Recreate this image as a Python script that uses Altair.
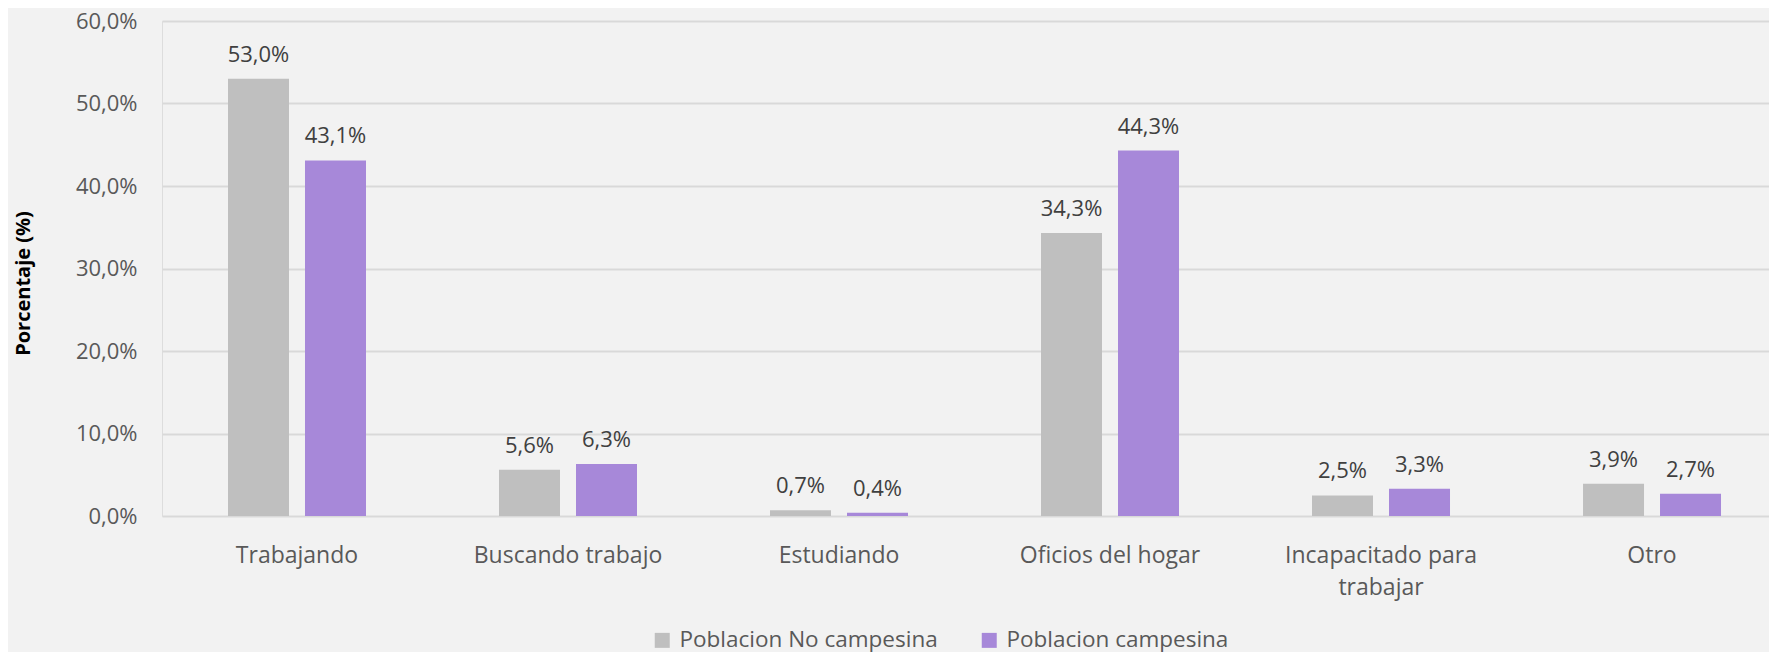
import altair as alt
import pandas as pd

categories = ["Trabajando", "Buscando trabajo", "Estudiando", "Oficios del hogar",
              "Incapacitado para trabajar", "Otro"]
series = ["Poblacion No campesina", "Poblacion campesina"]
no_campesina = [53.0, 5.6, 0.7, 34.3, 2.5, 3.9]
campesina = [43.1, 6.3, 0.4, 44.3, 3.3, 2.7]
y_ticks = [0, 10, 20, 30, 40, 50, 60]
colors = ["#bfbfbf", "#a788d9"]

rows = []
for c, a, b in zip(categories, no_campesina, campesina):
    rows.append({"cat": c, "serie": series[0], "val": a})
    rows.append({"cat": c, "serie": series[1], "val": b})
df = pd.DataFrame(rows)

FONT = "Open Sans"

x_enc = alt.X(
    "cat:N", sort=categories, title=None,
    scale=alt.Scale(paddingInner=0.4908, paddingOuter=0.2103, align=0.579, round=False),
    axis=alt.Axis(
        labelExpr="datum.value == 'Incapacitado para trabajar' ? ['Incapacitado para', 'trabajar'] : datum.value",
        labelFontSize=23, labelColor="#595959", labelFont=FONT, labelPadding=28,
        labelLineHeight=32, ticks=False, domain=False, grid=False, labelAngle=0, labelLimit=0,
    ),
)
xoff = alt.XOffset("serie:N", sort=series,
                   scale=alt.Scale(paddingInner=0.2078, paddingOuter=0, round=False))

y_enc = alt.Y(
    "val:Q", scale=alt.Scale(domain=[0, 60], nice=False),
    axis=alt.Axis(
        values=y_ticks, title="Porcentaje (%)",
        labelExpr="replace(format(datum.value, '.1f'), '.', ',') + '%'",
        labelFontSize=22, labelColor="#595959", labelFont=FONT, labelPadding=25,
        ticks=False, domain=False, grid=True, gridColor="#d9d9d9", gridWidth=2,
        titleFont=FONT, titleFontSize=20, titleFontWeight="bold", titleColor="#000000",
        titleAngle=270, titleX=-139, titleY=262, titleAlign="center", titleBaseline="middle",
    ),
)

color_enc = alt.Color(
    "serie:N", sort=series,
    scale=alt.Scale(domain=series, range=colors),
    legend=alt.Legend(
        title=None, orient="none", legendX=489, legendY=608, direction="horizontal",
        padding=0, offset=0,
        symbolType="square", symbolSize=225, symbolStrokeWidth=0, symbolOpacity=1,
        labelFontSize=22.5, labelColor="#595959", labelFont=FONT, labelOffset=6,
        columnPadding=40, labelLimit=0,
    ),
)

bars = alt.Chart(df).mark_bar(opacity=1).encode(
    x=x_enc, xOffset=xoff, y=y_enc, color=color_enc,
)

labels = alt.Chart(df).transform_calculate(
    lab="replace(format(datum.val, '.1f'), '.', ',') + '%'"
).mark_text(
    dy=-17, baseline="alphabetic", fontSize=22, color="#404040", font=FONT,
).encode(
    x=alt.X("cat:N", sort=categories), xOffset=alt.XOffset("serie:N", sort=series),
    y="val:Q", text="lab:N",
)

chart = alt.layer(bars, labels).properties(
    width=1607, height=495,
    autosize=alt.AutoSizeParams(type="none"),
    padding={"left": 154, "top": 13, "right": 0, "bottom": 140},
    background="#f2f2f2",
).configure_view(stroke=None).configure(font=FONT)

chart.save("out.html", embed_options={"renderer": "svg", "actions": False})
